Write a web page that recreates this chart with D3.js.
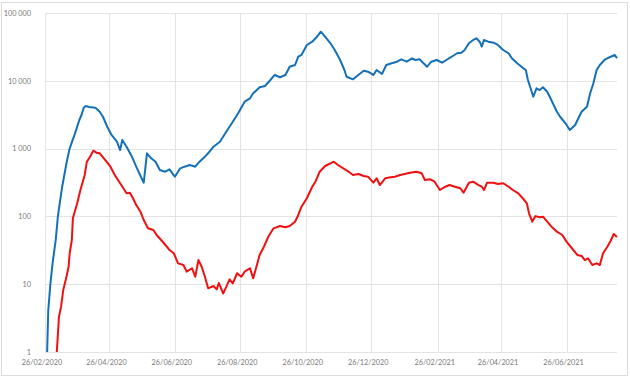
<!DOCTYPE html>
<html>
<head>
<meta charset="utf-8">
<script src="https://cdn.jsdelivr.net/npm/d3@7"></script>
<style>
  body { margin: 0; background: #fff; }
  .axis text { font-family: Lato, "Open Sans", sans-serif; font-size: 7.3px; fill: #7a7a7a; }
</style>
</head>
<body>
<div id="chart-area"></div>
<script>

// Data (log scale)
let blueDates = ["2020-02-28","2020-02-29","2020-03-02","2020-03-04","2020-03-07","2020-03-09","2020-03-13","2020-03-17","2020-03-20","2020-03-25",
  "2020-03-29","2020-03-31","2020-04-02","2020-04-04","2020-04-07","2020-04-13","2020-04-17","2020-04-20","2020-04-24","2020-04-28",
  "2020-05-03","2020-05-06","2020-05-08","2020-05-12","2020-05-17","2020-05-21","2020-05-26","2020-05-28","2020-05-31","2020-06-04",
  "2020-06-08","2020-06-12","2020-06-17","2020-06-21","2020-06-26","2020-07-01","2020-07-05","2020-07-10","2020-07-15","2020-07-19",
  "2020-07-24","2020-07-27","2020-08-01","2020-08-07","2020-08-15","2020-08-19","2020-08-24","2020-08-30","2020-09-04","2020-09-07",
  "2020-09-13","2020-09-18","2020-09-23","2020-09-27","2020-10-02","2020-10-07","2020-10-11","2020-10-16","2020-10-19","2020-10-22",
  "2020-10-27","2020-11-01","2020-11-05","2020-11-09","2020-11-13","2020-11-18","2020-11-22","2020-11-27","2020-12-01","2020-12-03",
  "2020-12-09","2020-12-14","2020-12-19","2020-12-23","2020-12-28","2020-12-31","2021-01-05","2021-01-09","2021-01-14","2021-01-19",
  "2021-01-23","2021-01-28","2021-02-02","2021-02-05","2021-02-09","2021-02-16","2021-02-20","2021-02-25","2021-03-02","2021-03-06",
  "2021-03-11","2021-03-16","2021-03-20","2021-03-23","2021-03-27","2021-03-31","2021-04-03","2021-04-06","2021-04-08","2021-04-10",
  "2021-04-14","2021-04-19","2021-04-23","2021-04-28","2021-05-03","2021-05-06","2021-05-11","2021-05-15","2021-05-19","2021-05-21",
  "2021-05-24","2021-05-26","2021-05-29","2021-06-01","2021-06-04","2021-06-08","2021-06-11","2021-06-14","2021-06-17","2021-06-20",
  "2021-06-25","2021-06-29","2021-07-04","2021-07-07","2021-07-10","2021-07-15","2021-07-18","2021-07-21","2021-07-24","2021-07-27",
  "2021-08-01","2021-08-06","2021-08-10","2021-08-12"];
let blueValues = [1,4,10,20,45,100,274,607,1010,1680,
  2640,3130,3970,4250,4110,4000,3500,2950,2100,1590,
  1265,953,1340,1067,760,541,365,314,853,719,
  641,483,456,495,385,512,541,573,541,641,
  760,853,1067,1265,1992,2494,3317,4920,5520,6540,
  8020,8380,10270,12190,11270,12190,16150,17100,22650,24030,
  33740,37740,43830,53000,44700,35750,28450,20270,14430,11490,
  10520,12190,14100,13620,12190,14430,12600,17100,18120,19140,
  20760,19140,21480,20270,20760,16150,19140,20270,18490,20270,
  22650,25460,25940,28450,35750,40000,42360,37740,31840,40000,
  37740,36480,33740,28450,25460,21480,18120,16150,14430,10270,
  7310,5830,7750,7310,8020,6900,5520,4400,3500,2950,
  2360,1880,2230,2800,3500,4150,6540,9190,14430,17100,
  20760,22650,24030,21480];

let redDates = ["2020-03-08","2020-03-10","2020-03-12","2020-03-14","2020-03-17","2020-03-19","2020-03-20","2020-03-22","2020-03-23","2020-03-27",
  "2020-03-30","2020-04-03","2020-04-05","2020-04-08","2020-04-11","2020-04-14","2020-04-17","2020-04-22","2020-04-27","2020-05-01",
  "2020-05-06","2020-05-09","2020-05-12","2020-05-15","2020-05-18","2020-05-21","2020-05-25","2020-05-28","2020-06-01","2020-06-06",
  "2020-06-09","2020-06-14","2020-06-18","2020-06-21","2020-06-25","2020-06-29","2020-07-04","2020-07-07","2020-07-12","2020-07-15",
  "2020-07-18","2020-07-21","2020-07-24","2020-07-27","2020-08-01","2020-08-04","2020-08-06","2020-08-10","2020-08-13","2020-08-16",
  "2020-08-19","2020-08-23","2020-08-27","2020-08-30","2020-09-04","2020-09-07","2020-09-10","2020-09-13","2020-09-17","2020-09-21",
  "2020-09-26","2020-10-02","2020-10-07","2020-10-11","2020-10-16","2020-10-19","2020-10-22","2020-10-27","2020-11-01","2020-11-04",
  "2020-11-08","2020-11-13","2020-11-18","2020-11-21","2020-11-25","2020-11-30","2020-12-05","2020-12-09","2020-12-14","2020-12-19",
  "2020-12-23","2020-12-28","2020-12-31","2021-01-03","2021-01-08","2021-01-13","2021-01-17","2021-01-22","2021-01-26","2021-01-31",
  "2021-02-06","2021-02-11","2021-02-14","2021-02-19","2021-02-23","2021-02-28","2021-03-05","2021-03-09","2021-03-14","2021-03-19",
  "2021-03-22","2021-03-27","2021-03-31","2021-04-05","2021-04-08","2021-04-10","2021-04-13","2021-04-19","2021-04-23","2021-04-28",
  "2021-05-03","2021-05-07","2021-05-12","2021-05-17","2021-05-20","2021-05-22","2021-05-25","2021-05-28","2021-06-01","2021-06-04",
  "2021-06-08","2021-06-12","2021-06-17","2021-06-22","2021-06-26","2021-07-01","2021-07-06","2021-07-10","2021-07-13","2021-07-16",
  "2021-07-20","2021-07-24","2021-07-27","2021-07-30","2021-08-03","2021-08-06","2021-08-09","2021-08-12"];
let redValues = [1,3.3,4.7,8.2,12.9,18.1,28.6,44.9,95,156,
  245,408,641,760,931,870,853,679,541,408,
  308,260,219,224,185,147,117,88.5,66.7,63,
  53.2,43.4,36.6,31.9,28.6,20.3,19.2,15.3,17.2,12.9,
  22.7,18.1,12.9,8.7,9.4,8.4,10.4,7.3,9.2,11.8,
  10.3,14.5,12.9,15.3,17.2,12.2,18.1,27,35.7,50,
  66.7,72.2,69,72.2,83.5,105,139,185,274,325,
  456,554,607,641,573,512,456,408,422,394,
  385,314,365,290,365,377,385,408,422,441,
  456,432,344,352,325,245,274,290,274,260,
  224,314,325,290,274,245,314,314,300,308,
  274,245,219,179,156,111,83.5,101,97,99,
  83.5,70.5,59.5,53.2,42.4,33.9,27,26.1,22.7,24.1,
  19.2,20.3,19.2,28.6,35.7,43.4,55,49.7];

let tickDates = ["2020-02-26","2020-04-26","2020-06-26","2020-08-26","2020-10-26","2020-12-26","2021-02-26","2021-04-26","2021-06-26"];
let yTicks = [1, 10, 100, 1000, 10000, 100000];
let yTickLabels = ["1", "10", "100", "1 000", "10 000", "100 000"];

// SVG drawing area
let margin = {top: 13, right: 13, bottom: 26, left: 45};

let width = 630 - margin.left - margin.right,
    height = 378 - margin.top - margin.bottom;

let root = d3.select("#chart-area").append("svg")
    .attr("width", 630)
    .attr("height", 378);

// outer chart frame
root.append("rect")
    .attr("x", 1.5).attr("y", 2.5)
    .attr("width", 626).attr("height", 373)
    .attr("fill", "#fff")
    .attr("stroke", "#dcdcdc");

let svg = root.append("g")
    .attr("transform", "translate(" + margin.left + "," + margin.top + ")");

let parse = d3.timeParse("%Y-%m-%d");

// Scales
let x = d3.scaleTime()
    .domain([parse("2020-02-26"), parse("2021-08-12")])
    .range([0, width]);

let y = d3.scaleLog()
    .domain([1, 100000])
    .range([height, 0]);

// Grid
svg.append("g")
    .attr("class", "grid")
    .selectAll("line.h")
    .data(yTicks)
  .enter().append("line")
    .attr("x1", 0).attr("x2", width)
    .attr("y1", d => Math.round(y(d)) + 0.5)
    .attr("y2", d => Math.round(y(d)) + 0.5)
    .attr("stroke", "#e3e3e3");

svg.append("g")
    .attr("class", "grid")
    .selectAll("line.v")
    .data(tickDates)
  .enter().append("line")
    .attr("x1", d => Math.round(x(parse(d))) + 0.5)
    .attr("x2", d => Math.round(x(parse(d))) + 0.5)
    .attr("y1", 0).attr("y2", height)
    .attr("stroke", "#e3e3e3");

// Axes
let xAxis = d3.axisBottom(x)
    .tickValues(tickDates.map(parse))
    .tickFormat(d3.timeFormat("%d/%m/%Y"))
    .tickSize(0)
    .tickPadding(8);

let yAxis = d3.axisLeft(y)
    .tickValues(yTicks)
    .tickFormat((d, i) => yTickLabels[i])
    .tickSize(0)
    .tickPadding(14);

let xAxisGroup = svg.append("g")
    .attr("class", "x-axis axis")
    .attr("transform", "translate(-3.5," + height + ")")
    .call(xAxis);
let yAxisGroup = svg.append("g")
    .attr("class", "y-axis axis")
    .call(yAxis);

svg.selectAll(".axis .domain").remove();

// Lines
let line = d3.line()
    .x(d => x(d.date))
    .y(d => y(d.value));

let blueData = blueDates.map((d, i) => ({date: parse(d), value: blueValues[i]}));
let redData = redDates.map((d, i) => ({date: parse(d), value: redValues[i]}));

svg.append("path")
    .datum(blueData)
    .attr("fill", "none")
    .attr("stroke", "#1471b8")
    .attr("stroke-width", 2)
    .attr("stroke-linejoin", "round")
    .attr("d", line);

svg.append("path")
    .datum(redData)
    .attr("fill", "none")
    .attr("stroke", "#f01010")
    .attr("stroke-width", 2)
    .attr("stroke-linejoin", "round")
    .attr("d", line);

</script>
</body>
</html>
